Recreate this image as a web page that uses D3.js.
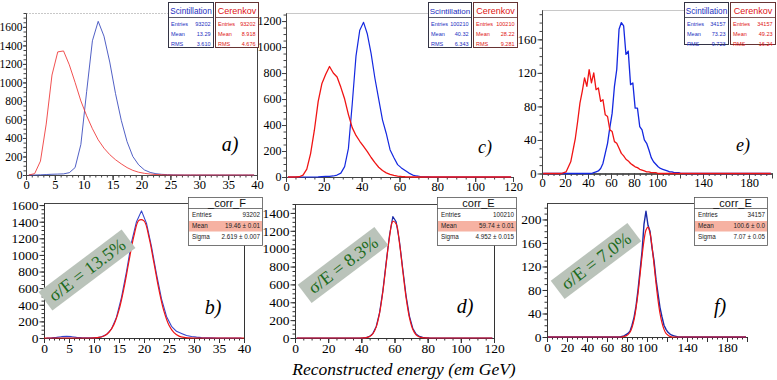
<!DOCTYPE html>
<html><head><meta charset="utf-8">
<script src="https://cdn.jsdelivr.net/npm/d3@7"></script>
<style>body{margin:0;background:#fff}svg{display:block}</style>
</head><body>
<svg id="c" width="777" height="380"></svg>
<script>
// ---------------- DATA ----------------
// a) bins of width 1 from 0 to 40
const aBinWidth = 1;
const aScint = [0,0,2,5,8,10,12,25,80,330,900,1450,1660,1500,1220,880,590,360,200,110,55,28,14,7,4,2,1,0,0,0,0,0,0,0,0,0,0,0,0,0];
const aCer   = [0,15,150,550,1080,1330,1340,1190,1000,800,640,500,380,290,220,165,120,80,50,30,18,10,5,3,1,0,0,0,0,0,0,0,0,0,0,0,0,0,0,0];
// c) bins of width 2 from 0 to 120
const cBinWidth = 2;
const cScint = [0,0,0,0,0,0,0,0, 1,3,5,5,8,15,30,80,220,560,930,1130,1190,1100,950,760,600,440,335,210,150,95,70,50,30,15,8,4,2,1, 0,0,0,0,0,0,0,0,0,0,0,0,0,0,0,0,0,0,0,0,0,0];
const cCer   = [0,0,0, 2,15,60,180,360,580,720,790,850,800,770,690,600,480,380,320,275,235,195,150,110,75,50,32,20,12,7,4,2,1, 0,0,0,0,0,0,0,0,0,0,0,0,0,0,0,0,0,0,0,0,0,0,0,0,0,0,0];
// e) bins of width 2 from 0 to 200
const eBinWidth = 2;
const eScint = [0,0,0,0,0,0,0,0,0,0,0,0,0,0,0,0,0,0,0,0,0,0,
  1,2,3,6,12,24,36,55,72,104,124,172,180,176,142,146,106,108,78,78,56,52,40,36,28,19,14,11,8,6,5,4,3,2,2,1,1,1,
  0,0,0,0,0,0,0,0,0,0,0,0,0,0,0,0,0,0,0,0,0,0,0,0,0,0,0,0,0,0,0,0,0,0,0,0,0,0,0,0];
const eCer = [0,0,0,0,0,0,0,0,0,
  1,2,8,14,28,42,62,84,98,114,104,124,108,120,100,102,86,88,70,68,52,50,38,36,30,24,21,17,15,12,10,8,7,5,4,3,2,2,1,1,1,
  0,0,0,0,0,0,0,0,0,0,0,0,0,0,0,0,0,0,0,0,0,0,0,0,0,0,0,0,0,0,0,0,0,0,0,0,0,0,0,0,0,0,0,0,0,0,0,0,0,0];
// b) corrected energy, bins width 1 (0..40); fit sampled every 1
const bBinWidth = 1;
const bHist = [0,2,7,16,20,16,8,4,3,3,4,14,42,110,250,490,800,1150,1400,1530,1380,1100,770,470,260,140,80,55,30,18,10,5,2,1,0,0,0,0,0,0];
const bFitStep = 1;
const bFit  = [0,0,0,0,0,0,0,0,0,0,2,8,25,69,164,338,602,927,1233,1418,1410,1211,900,578,321,154,64,23,7,2,0,0,0,0,0,0,0,0,0,0,0];
// d) bins width 2 (0..120)
const dBinWidth = 2;
const dHist = [0,0,0,0,0,0,0,0,0,0,0,0,0,0,0,0,0,0,0,0, 2,5,18,52,130,285,530,850,1150,1360,1300,1080,770,470,245,110,45,18,8,3,1, 0,0,0,0,0,0,0,0,0,0,0,0,0,0,0,0,0,0,0];
const dFit  = [0,0,0,0,0,0,0,0,0,0,0,0,0,0,0,0,0,0,0,0, 1,4,16,48,125,278,522,834,1133,1306,1278,1062,750,450,229,99,36,11,3,1,0, 0,0,0,0,0,0,0,0,0,0,0,0,0,0,0,0,0,0,0];
// f) bins width 2 (0..200)
const fBinWidth = 2;
const fHist = [0,0,0,0,0,0,0,0,0,0,0,0,0,0,0,0,0,0,0,0,0,0,0,0,0,0,0,0,0,0,0,0,0,0,0,0,0,
  1,2,4,6,10,20,33,52,80,112,145,192,214,190,180,152,130,98,74,50,34,20,13,8,5,3,2,1,
  0,0,0,0,0,0,0,0,0,0,0,0,0,0,0,0,0,0,0,0,0,0,0,0,0,0,0,0,0,0,0,0,0,0,0];
const fFit = [0,0,0,0,0,0,0,0,0,0,0,0,0,0,0,0,0,0,0,0,0,0,0,0,0,0,0,0,0,0,0,0,0,0,0,0,0,
  0,1,2,4,8,16,29,49,74,105,137,164,182,187,177,154,124,92,63,40,24,13,6,3,1,0,0,0,
  0,0,0,0,0,0,0,0,0,0,0,0,0,0,0,0,0,0,0,0,0,0,0,0,0,0,0,0,0,0,0,0,0,0,0];

// tick labels
const aXTicks = [0,5,10,15,20,25,30,35,40];
const aYTicks = [0,200,400,600,800,1000,1200,1400,1600];
const cXTicks = [0,20,40,60,80,100,120];
const cYTicks = [0,200,400,600,800,1000,1200];
const eXTicks = [0,20,40,60,80,100,140,180];
const eYTicks = [0,40,80,120,160];
const bXTicks = [0,5,10,15,20,25,30,35,40];
const bYTicks = [0,200,400,600,800,1000,1200,1400,1600];
const dXTicks = [0,20,40,60,80,100,120];
const dYTicks = [0,200,400,600,800,1000,1200,1400];
const fXTicks = [0,20,40,60,80,100,140,180];
const fYTicks = [0,40,80,120,160,200];

// stats texts
const topStatLabels = ["Entries","Mean","RMS"];
const aScintStats = ["93202","13.29","3.610"];
const aCerStats   = ["93202","8.918","4.676"];
const cScintStats = ["100210","40.32","6.343"];
const cCerStats   = ["100210","28.22","9.281"];
const eScintStats = ["34157","73.23","9.723"];
const eCerStats   = ["34157","49.23","16.24"];
const fitStatLabels = ["Entries","Mean","Sigma"];
const bStats = ["93202","19.46 \u00b1 0.01","2.619 \u00b1 0.007"];
const dStats = ["100210","59.74 \u00b1 0.01","4.952 \u00b1 0.015"];
const fStats = ["34157","100.6 \u00b1 0.0","7.07 \u00b1 0.05"];
const resolutions = ["\u03c3/E = 13.5%","\u03c3/E = 8.3%","\u03c3/E = 7.0%"];
const panelLetters = ["a)","b)","c)","d)","e)","f)"];
const xTitle = "Reconstructed energy (em GeV)";

// ---------------- DRAWING ----------------
const svg = d3.select("#c");
const SERIF = "'Liberation Serif','Times New Roman',serif";
const SANS = "'Liberation Sans',Arial,sans-serif";
const BLUE = "#1428e0", RED = "#f01414", NAVY = "#1a2aa8";

function drawPanel(p) {
  const x = d3.scaleLinear().domain(p.xDomain).range([p.x0, p.x1]);
  const y = d3.scaleLinear().domain(p.yDomain).range([p.y0, p.y1]);
  const g = svg.append("g");
  g.append("line").attr("x1", p.x0).attr("x2", p.topEnd).attr("y1", p.y1 + 0.5).attr("y2", p.y1 + 0.5)
    .attr("stroke", p.frameColor).attr("stroke-width", 1).attr("stroke-dasharray", p.frameDash || null);
  if (p.rightFrom != null) {
    g.append("line").attr("x1", p.x1 + 0.5).attr("x2", p.x1 + 0.5).attr("y1", p.rightFrom).attr("y2", p.y0)
      .attr("stroke", p.axisColor).attr("stroke-width", 1);
  }
  const xMinor = d3.axisBottom(x).tickValues(d3.range(p.xDomain[0], p.xDomain[1] + 1e-9, p.xMinorStep))
    .tickSize(2.5).tickSizeOuter(0).tickFormat("");
  const xMajor = d3.axisBottom(x).tickValues(d3.range(p.xDomain[0], p.xDomain[1] + 1e-9, p.xMajorStep))
    .tickSize(5).tickSizeOuter(0).tickFormat("");
  const xLab = d3.axisBottom(x).tickValues(p.xTicks).tickSize(5).tickSizeOuter(0).tickPadding(0).tickFormat(d3.format("d"));
  const yMinor = d3.axisLeft(y).tickValues(d3.range(0, p.yDomain[1] + 1e-9, p.yMinorStep))
    .tickSize(2.5).tickSizeOuter(0).tickFormat("");
  const yLab = d3.axisLeft(y).tickValues(p.yTicks).tickSize(p.yTickSize).tickSizeOuter(0).tickPadding(p.yPad).tickFormat(d3.format("d"));
  [xMinor, xMajor, xLab].forEach(ax => {
    const a = g.append("g").attr("transform", `translate(0,${p.y0})`).call(ax);
    a.selectAll("path,line").attr("stroke", p.axisColor);
    a.selectAll("text").attr("font-family", SERIF).attr("font-size", p.fontSize).attr("fill", "#000");
  });
  [yMinor, yLab].forEach(ax => {
    const a = g.append("g").attr("transform", `translate(${p.x0},0)`).call(ax);
    a.selectAll("path,line").attr("stroke", p.axisColor);
    a.selectAll("text").attr("font-family", SERIF).attr("font-size", p.yFontSize || p.fontSize).attr("fill", "#000");
  });
  p.series.forEach(s => {
    const pts = s.values.map((v, i) => [(i + s.offset) * s.step, v]);
    const line = d3.line().x(d => x(d[0])).y(d => y(d[1])).curve(s.curve || d3.curveLinear);
    g.append("path").attr("d", line(pts)).attr("fill", "none").attr("stroke", s.color)
      .attr("stroke-width", s.width).attr("stroke-linejoin", "round").attr("opacity", s.opacity || 1);
  });
  g.append("text").attr("x", p.letter.x).attr("y", p.letter.y).attr("text-anchor", "middle")
    .attr("font-family", SERIF).attr("font-style", "italic").attr("font-size", p.letter.size)
    .text(p.letter.text);
}

function statsTop(b) {
  const g = svg.append("g");
  g.append("rect").attr("x", b.x + 0.5).attr("y", b.y + 0.5).attr("width", b.w).attr("height", b.h)
    .attr("fill", "#fff").attr("stroke", b.border).attr("stroke-width", 1);
  g.append("line").attr("x1", b.x + 0.5).attr("x2", b.x + b.w + 0.5).attr("y1", b.y + 15.5).attr("y2", b.y + 15.5)
    .attr("stroke", b.border).attr("stroke-width", 0.8);
  g.append("text").attr("x", b.x + b.w / 2 + 0.5).attr("y", b.y + 11.5).attr("text-anchor", "middle")
    .attr("font-family", SANS).attr("font-size", b.titleSize).attr("fill", b.color).text(b.title);
  b.labels.forEach((l, i) => {
    const yy = b.y + 23.5 + i * 10;
    g.append("text").attr("x", b.x + 3).attr("y", yy).attr("font-family", SANS).attr("font-size", 5.5)
      .attr("fill", b.color).text(l);
    g.append("text").attr("x", b.x + b.w - 2.5).attr("y", yy).attr("text-anchor", "end").attr("font-family", SANS)
      .attr("font-size", 5.5).attr("fill", b.color).text(b.values[i]);
  });
}

function statsFit(b) {
  const g = svg.append("g");
  g.append("rect").attr("x", b.x + 0.5).attr("y", b.y + 0.5).attr("width", b.w).attr("height", 48)
    .attr("fill", "#fff").attr("stroke", "#555").attr("stroke-width", 0.8);
  g.append("rect").attr("x", b.x + 1).attr("y", b.y + 24).attr("width", b.w - 1).attr("height", 10.5)
    .attr("fill", "#f6b2a2");
  g.append("line").attr("x1", b.x).attr("x2", b.x + b.w).attr("y1", b.y + 11.5).attr("y2", b.y + 11.5)
    .attr("stroke", "#555").attr("stroke-width", 0.8);
  g.append("text").attr("x", b.x + b.w / 2 + 2).attr("y", b.y + 10).attr("text-anchor", "middle")
    .attr("font-family", SANS).attr("font-size", 11).attr("fill", "#111").text(b.title);
  b.labels.forEach((l, i) => {
    const yy = b.y + 19.5 + i * 11.3;
    g.append("text").attr("x", b.x + 4).attr("y", yy).attr("font-family", SANS).attr("font-size", 6.3)
      .attr("fill", "#222").text(l);
    g.append("text").attr("x", b.x + b.w - 2).attr("y", yy).attr("text-anchor", "end").attr("font-family", SANS)
      .attr("font-size", 6.3).attr("fill", "#222").text(b.values[i]);
  });
}

function resolutionTag(t) {
  const g = svg.append("g").attr("transform", `translate(${t.cx},${t.cy}) rotate(-37)`);
  g.append("rect").attr("x", -t.w / 2).attr("y", -11.5).attr("width", t.w).attr("height", 23).attr("fill", "#bac3ba");
  g.append("text").attr("x", 0).attr("y", 6).attr("text-anchor", "middle").attr("font-family", SERIF)
    .attr("font-size", 18).attr("fill", "#1d6b1d").text(t.text);
}

// ---- top row ----
drawPanel({ xDomain:[0,40], yDomain:[0,1750], x0:26, x1:257, y0:175, y1:13, topEnd:168,
  frameColor:"#c8c8c8", frameDash:"2,1", rightFrom:47, axisColor:"#444", fontSize:12.5, yFontSize:11.5, yTickSize:3, yPad:0.5,
  xTicks:aXTicks, xMajorStep:5, xMinorStep:1, yTicks:aYTicks, yMinorStep:50,
  series:[{values:aScint, step:aBinWidth, offset:0.5, color:"#3344bb", width:1, opacity:0.85},
          {values:aCer, step:aBinWidth, offset:0.5, color:"#ee3333", width:1, opacity:0.85}],
  letter:{x:230, y:151, size:20, text:panelLetters[0]} });
drawPanel({ xDomain:[0,120], yDomain:[0,1262], x0:286, x1:513, y0:177, y1:13, topEnd:428,
  frameColor:"#c8c8c8", frameDash:null, rightFrom:null, axisColor:"#444", fontSize:12.5, yFontSize:12, yTickSize:4, yPad:0.5,
  xTicks:cXTicks, xMajorStep:20, xMinorStep:5, yTicks:cYTicks, yMinorStep:50,
  series:[{values:cScint, step:cBinWidth, offset:0.5, color:BLUE, width:1.2},
          {values:cCer, step:cBinWidth, offset:0.5, color:RED, width:1.3}],
  letter:{x:485, y:153, size:18, text:panelLetters[2]} });
drawPanel({ xDomain:[0,200], yDomain:[0,195], x0:542, x1:772, y0:173.5, y1:10, topEnd:684,
  frameColor:"#c8c8c8", frameDash:null, rightFrom:null, axisColor:"#444", fontSize:12.5, yFontSize:12.5, yTickSize:4.5, yPad:1,
  xTicks:eXTicks, xMajorStep:20, xMinorStep:5, yTicks:eYTicks, yMinorStep:10,
  series:[{values:eScint, step:eBinWidth, offset:0.5, color:BLUE, width:1.3},
          {values:eCer, step:eBinWidth, offset:0.5, color:RED, width:1.3}],
  letter:{x:743, y:151, size:18, text:panelLetters[4]} });

statsTop({x:168, y:2, w:45, h:45, title:"Scintillation", titleSize:8.2, color:"#1a2ec0", border:"#334", labels:topStatLabels, values:aScintStats});
statsTop({x:215, y:2, w:43, h:45, title:"Cerenkov", titleSize:9, color:"#e01414", border:"#633", labels:topStatLabels, values:aCerStats});
statsTop({x:428, y:2, w:43, h:45, title:"Scintillation", titleSize:8, color:"#1a2ec0", border:"#334", labels:topStatLabels, values:cScintStats});
statsTop({x:473, y:2, w:44, h:45, title:"Cerenkov", titleSize:9, color:"#e01414", border:"#633", labels:topStatLabels, values:cCerStats});
statsTop({x:684, y:2, w:44, h:42, title:"Scintillation", titleSize:8.2, color:"#1a2ec0", border:"#334", labels:topStatLabels, values:eScintStats});
statsTop({x:730, y:2, w:45, h:42, title:"Cerenkov", titleSize:9, color:"#e01414", border:"#633", labels:topStatLabels, values:eCerStats});

// ---- bottom row ----
drawPanel({ xDomain:[0,40], yDomain:[0,1625], x0:44, x1:244, y0:338, y1:203, topEnd:188,
  frameColor:"#444", rightFrom:245, axisColor:"#333", fontSize:13.5, yTickSize:4.5, yPad:1,
  xTicks:bXTicks, xMajorStep:5, xMinorStep:1, yTicks:bYTicks, yMinorStep:50,
  series:[{values:bHist, step:bBinWidth, offset:0.5, color:"#3344cc", width:1.1},
          {values:bFit, step:bFitStep, offset:0, color:RED, width:1.2, curve:d3.curveCatmullRom}],
  letter:{x:213, y:314, size:20, text:panelLetters[1]} });
drawPanel({ xDomain:[0,120], yDomain:[0,1500], x0:295, x1:494, y0:338, y1:204, topEnd:437,
  frameColor:"#444", rightFrom:245, axisColor:"#333", fontSize:13.5, yTickSize:4.5, yPad:1,
  xTicks:dXTicks, xMajorStep:20, xMinorStep:5, yTicks:dYTicks, yMinorStep:50,
  series:[{values:dHist, step:dBinWidth, offset:0.5, color:NAVY, width:1.2},
          {values:dFit, step:dBinWidth, offset:0.5, color:RED, width:1.2, curve:d3.curveCatmullRom}],
  letter:{x:465, y:313, size:20, text:panelLetters[3]} });
drawPanel({ xDomain:[0,200], yDomain:[0,228], x0:547, x1:747, y0:337, y1:203, topEnd:694,
  frameColor:"#444", rightFrom:null, axisColor:"#333", fontSize:13.5, yTickSize:4.5, yPad:1,
  xTicks:fXTicks, xMajorStep:20, xMinorStep:5, yTicks:fYTicks, yMinorStep:10,
  series:[{values:fHist, step:fBinWidth, offset:0.5, color:NAVY, width:1.4},
          {values:fFit, step:fBinWidth, offset:0.5, color:RED, width:1.2, curve:d3.curveCatmullRom}],
  letter:{x:720, y:313, size:20, text:panelLetters[5]} });

statsFit({x:188, y:197, w:74, title:"_corr_F", labels:fitStatLabels, values:bStats});
statsFit({x:437, y:197, w:79, title:"corr_E", labels:fitStatLabels, values:dStats});
statsFit({x:694, y:197, w:73, title:"_corr_E", labels:fitStatLabels, values:fStats});

resolutionTag({cx:87, cy:270, w:104, text:resolutions[0]});
resolutionTag({cx:343, cy:265, w:96, text:resolutions[1]});
resolutionTag({cx:596, cy:261, w:96, text:resolutions[2]});

svg.append("text").attr("x", 404).attr("y", 375).attr("text-anchor", "middle")
  .attr("font-family", SERIF).attr("font-style", "italic").attr("font-size", 17.5).text(xTitle);
</script>
</body></html>
